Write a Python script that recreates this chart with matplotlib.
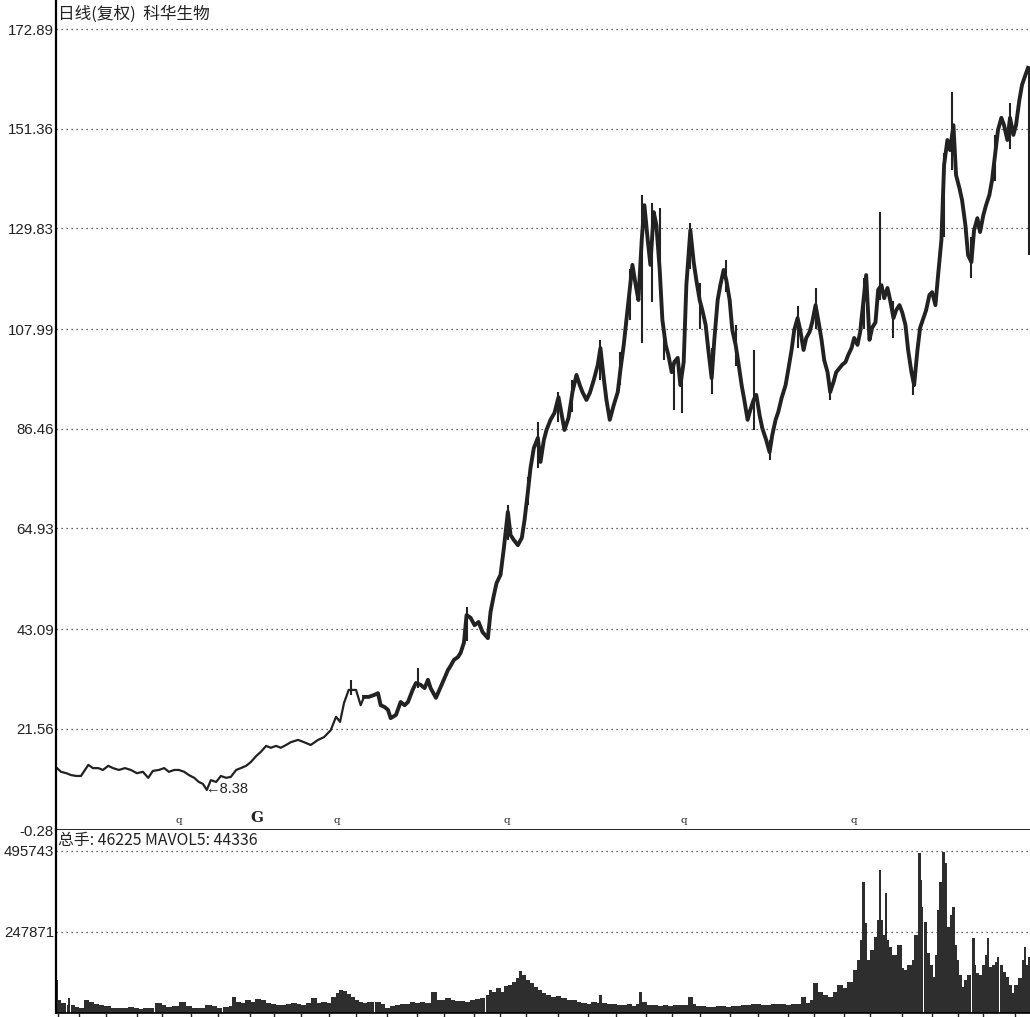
import numpy as np
import matplotlib
matplotlib.use('Agg')
import matplotlib.pyplot as plt

plt.rcParams['font.family'] = ['Liberation Sans', 'Noto Sans CJK SC', 'DejaVu Sans']

# trading-day index of each sampled close, and the close itself
price_days = [0, 6, 14, 21, 29, 36, 42, 47, 54, 62, 69, 77, 84, 93, 102, 111, 120, 129, 137, 144,
              153, 161, 168, 176, 183, 191, 198, 206, 213, 219, 225, 231, 239, 246, 254, 261, 269, 276, 284, 291,
              299, 306, 314, 321, 329, 336, 344, 351, 362, 371, 381, 392, 401, 411, 419, 425, 431, 438, 444, 449,
              456, 461, 468, 476, 482, 486, 492, 497, 501, 509, 516, 522, 527, 534, 539, 546, 552, 557, 561, 569,
              576, 582, 587, 591, 596, 602, 606, 611, 615, 621, 627, 633, 639, 647, 651, 656, 660, 666, 671, 677,
              681, 686, 692, 698, 702, 707, 711, 716, 722, 726, 731, 735, 741, 747, 753, 758, 762, 768, 774, 780,
              785, 789, 795, 800, 806, 812, 816, 821, 825, 830, 836, 842, 846, 851, 855, 860, 864, 869, 873, 878,
              882, 887, 891, 896, 900, 905, 909, 914, 918, 923, 927, 932, 936, 941, 945, 951, 956, 960, 965, 969,
              974, 978, 983, 987, 992, 996, 1001, 1005, 1010, 1014, 1019, 1023, 1028, 1032, 1037, 1041, 1046, 1050, 1055, 1059,
              1065, 1070, 1074, 1079, 1083, 1088, 1094, 1098, 1103, 1107, 1112, 1116, 1121, 1125, 1130, 1134, 1139, 1143, 1148, 1152,
              1157, 1161, 1166, 1170, 1175, 1179, 1184, 1188, 1193, 1197, 1202, 1206, 1211, 1215, 1220, 1224, 1229, 1233, 1238, 1242,
              1247, 1251, 1256, 1260, 1265, 1269, 1274, 1278, 1283, 1287, 1292, 1296, 1301, 1305, 1310, 1314, 1319, 1323, 1328, 1332,
              1337, 1341, 1346, 1350, 1355, 1359, 1364, 1368, 1373, 1377, 1382, 1386, 1391, 1395, 1400, 1404, 1409, 1413, 1418, 1422,
              1427, 1431, 1436, 1440, 1445, 1449, 1454, 1458]
close = [13.1, 12.3, 12.0, 11.6, 11.4, 11.4, 12.7, 13.8, 13.1, 13.1, 12.7, 13.6, 13.1, 12.7, 13.1, 12.7, 12.0, 12.3, 11.0, 12.5,
         12.7, 13.1, 12.3, 12.7, 12.7, 12.3, 11.6, 11.0, 10.1, 9.7, 8.38, 10.5, 10.1, 11.4, 11.0, 11.2, 12.7, 13.1, 13.6, 14.4,
         15.7, 16.6, 17.9, 17.5, 17.9, 17.5, 18.1, 18.7, 19.2, 18.7, 18.1, 19.2, 19.8, 21.3, 24.2, 23.1, 27.2, 30.0, 30.0, 30.0,
         26.7, 28.5, 28.5, 28.9, 29.3, 26.7, 26.3, 25.7, 23.9, 24.6, 27.4, 26.7, 27.4, 30.0, 31.5, 31.1, 30.4, 32.2, 30.4, 28.3,
         30.6, 32.6, 34.3, 35.2, 36.5, 37.1, 38.0, 40.2, 46.2, 45.6, 44.0, 44.7, 42.5, 41.2, 46.9, 50.5, 53.1, 54.9, 60.7, 68.5,
         63.5, 62.4, 61.3, 62.9, 66.7, 72.8, 78.0, 82.3, 84.5, 79.3, 84.0, 86.2, 88.4, 89.9, 93.3, 89.4, 86.2, 88.8, 94.4, 98.1,
         95.9, 94.4, 92.7, 94.2, 97.0, 100.3, 103.9, 97.4, 92.7, 88.4, 91.6, 94.4, 99.2, 104.6, 110.0, 116.5, 121.9, 117.5, 114.3, 127.3,
         134.8, 127.3, 121.9, 133.3, 130.5, 120.8, 110.0, 104.6, 102.4, 98.7, 100.9, 101.8, 95.9, 100.9, 117.5, 129.4, 122.5, 118.6, 114.3, 112.1,
         108.9, 103.5, 97.4, 105.7, 114.3, 117.5, 120.8, 118.6, 114.3, 107.8, 104.6, 100.9, 95.9, 92.7, 88.4, 90.5, 92.7, 93.8, 89.4, 86.6,
         84.0, 81.4, 85.1, 88.4, 90.1, 93.1, 95.9, 99.2, 103.5, 107.8, 110.4, 107.8, 103.5, 106.1, 107.4, 109.5, 113.2, 110.0, 105.7, 101.3,
         98.7, 94.4, 96.6, 98.7, 99.6, 100.3, 100.9, 102.4, 103.9, 106.1, 104.6, 107.4, 114.3, 119.7, 105.7, 108.3, 109.5, 116.5, 117.5, 114.7,
         116.9, 114.3, 110.4, 112.1, 113.2, 111.7, 108.9, 103.5, 98.7, 95.9, 103.5, 108.3, 110.4, 112.1, 115.4, 116.0, 113.2, 119.7, 127.3, 143.5,
         148.9, 146.7, 152.1, 141.3, 138.5, 135.9, 130.5, 124.0, 122.5, 129.4, 132.0, 129.0, 132.7, 134.8, 137.0, 140.2, 146.3, 151.1, 153.7, 152.1,
         148.9, 153.7, 150.0, 152.1, 157.5, 160.8, 162.9, 164.5]

# intraday extremes that stick out of the close line
spike_days = [441, 542, 615, 677, 707, 722, 753, 774, 816, 846, 860, 878, 894, 905, 912, 926, 938, 950, 965, 983,
              1004, 1019, 1047, 1071, 1112, 1139, 1161, 1211, 1236, 1256, 1286, 1332, 1344, 1373, 1409, 1431, 1460]
spike_low = [29.0, 30.5, 40.5, 62.4, 70.0, 78.0, 88.0, 90.0, 97.0, 96.0, 110.0, 105.0, 113.9, 119.7, 101.3, 90.5, 89.9, 121.0, 108.0, 94.0,
             116.0, 100.0, 86.2, 79.7, 104.0, 108.0, 92.7, 108.0, 114.3, 106.0, 93.8, 128.0, 142.4, 119.0, 140.0, 147.0, 124.0]
spike_high = [32.2, 34.7, 48.0, 70.0, 76.0, 88.0, 94.5, 97.0, 105.7, 103.0, 121.0, 137.0, 135.3, 134.2, 107.8, 101.3, 98.0, 131.0, 118.0, 104.0,
              123.0, 109.0, 103.5, 84.0, 113.0, 117.0, 96.0, 119.0, 133.3, 114.0, 99.0, 146.0, 159.3, 128.0, 150.0, 157.0, 164.5]

vol_days = [0, 3, 9, 17, 18, 24, 30, 36, 44, 51, 59, 66, 75, 86, 96, 104, 111, 119, 126, 134,
            141, 152, 159, 168, 179, 189, 198, 207, 216, 227, 236, 243, 254, 261, 266, 272, 279, 287, 294, 302,
            309, 317, 324, 332, 339, 348, 356, 363, 371, 378, 386, 393, 401, 408, 416, 422, 426, 432, 438, 444,
            450, 456, 464, 471, 482, 489, 497, 504, 512, 519, 527, 534, 542, 549, 557, 566, 572, 579, 587, 594,
            602, 609, 617, 624, 632, 639, 647, 651, 657, 663, 669, 674, 680, 686, 692, 696, 701, 707, 713, 719,
            725, 731, 737, 746, 753, 761, 768, 776, 783, 791, 798, 806, 813, 816, 822, 830, 837, 845, 852, 860,
            867, 872, 876, 882, 891, 899, 906, 914, 921, 929, 936, 944, 951, 956, 963, 971, 978, 986, 993, 1001,
            1008, 1016, 1023, 1031, 1038, 1046, 1053, 1061, 1068, 1076, 1083, 1091, 1098, 1106, 1113, 1121, 1127, 1134, 1139, 1146,
            1154, 1161, 1169, 1176, 1184, 1191, 1199, 1203, 1208, 1211, 1214, 1218, 1224, 1229, 1233, 1236, 1239, 1242, 1245, 1248,
            1251, 1257, 1265, 1269, 1274, 1280, 1286, 1290, 1295, 1298, 1299, 1304, 1308, 1313, 1316, 1320, 1323, 1326, 1331, 1334,
            1338, 1343, 1346, 1349, 1352, 1356, 1361, 1365, 1370, 1376, 1379, 1382, 1386, 1391, 1395, 1398, 1401, 1406, 1410, 1413,
            1418, 1422, 1427, 1431, 1436, 1440, 1446, 1451, 1454, 1457, 1460]
# volume in thousands of lots
vol_k = [101, 40, 31, 24, 46, 24, 18, 15, 40, 34, 28, 24, 21, 15, 15, 15, 18, 15, 12, 15,
         15, 31, 24, 18, 21, 34, 21, 15, 15, 24, 21, 15, 18, 21, 49, 34, 31, 40, 34, 43,
         40, 31, 28, 24, 24, 28, 31, 28, 24, 31, 46, 31, 34, 31, 49, 61, 70, 67, 58, 49,
         40, 34, 31, 34, 34, 28, 15, 21, 24, 28, 28, 34, 31, 34, 31, 64, 40, 40, 46, 40,
         37, 37, 34, 40, 43, 46, 55, 70, 64, 77, 64, 83, 86, 95, 107, 129, 116, 101, 92, 80,
         70, 61, 55, 49, 52, 46, 40, 40, 34, 31, 28, 34, 31, 55, 31, 28, 28, 24, 24, 28,
         21, 28, 64, 34, 24, 24, 21, 24, 21, 24, 24, 24, 49, 28, 21, 21, 18, 18, 21, 21,
         18, 21, 21, 24, 24, 28, 28, 24, 24, 28, 28, 28, 24, 28, 28, 49, 31, 40, 92, 64,
         55, 49, 64, 86, 77, 95, 132, 162, 223, 401, 275, 162, 193, 233, 285, 438, 285, 239, 367, 223,
         202, 177, 208, 138, 132, 147, 162, 239, 490, 407, 324, 278, 184, 147, 110, 177, 315, 401, 493, 459,
         263, 300, 324, 208, 162, 116, 80, 101, 116, 230, 147, 122, 116, 147, 177, 230, 140, 147, 156, 171,
         147, 125, 110, 86, 61, 86, 107, 162, 202, 147, 171]

price_ticks = [172.89, 151.36, 129.83, 107.99, 86.46, 64.93, 43.09, 21.56, -0.28]
vol_ticks = [495743, 247871]
axis_tick_days = [2, 33, 74, 120, 158, 201, 242, 290, 326, 366, 408, 449, 495, 540, 581, 626, 665, 704, 753, 797,
                  839, 885, 923, 966, 1011, 1053, 1097, 1136, 1181, 1221, 1269, 1314, 1353, 1391, 1439]
q_days = [183, 420, 675, 941, 1197]
g_day = 300
low_day, low_price = 225, 8.38

W, H = 1030, 1017
fig = plt.figure(figsize=(W / 100, H / 100), dpi=100)
left = 56 / W
ax = fig.add_axes([left, (H - 830) / H, 1 - left, 830 / H])
axv = fig.add_axes([left, (H - 1013) / H, 1 - left, (1013 - 830) / H], sharex=ax)

ink = '#222222'
grid_kw = dict(color='#333333', linestyle=(0, (1, 3)), linewidth=0.9)

# price panel
cut = next(i for i, d in enumerate(price_days) if d >= 460)
ax.plot(price_days[:cut + 1], close[:cut + 1], color=ink, linewidth=1.6)
ax.plot(price_days[cut:], close[cut:], color=ink, linewidth=2.8)
ax.vlines(spike_days, spike_low, spike_high, color=ink, linewidth=1.5)
for t in price_ticks[:-1]:
    ax.axhline(t, **grid_kw)
ax.set_ylim(-0.28, -0.28 + 830 * 0.2162)
ax.set_xlim(-1.5, 1461)
ax.set_yticks(price_ticks)
ax.set_yticklabels([f'{t:.2f}' for t in price_ticks])
ax.tick_params(axis='y', length=0, pad=1.5, labelsize=10.8, labelcolor='#222222')
ax.tick_params(axis='x', length=0, labelbottom=False)
for s in ['top', 'right']:
    ax.spines[s].set_visible(False)
ax.spines['left'].set_linewidth(1.6)
ax.spines['bottom'].set_linewidth(1.2)

for d in q_days:
    ax.text(d, 1.7, 'q', family='DejaVu Serif', fontsize=7.5, ha='center', va='center', color='#222222')
ax.text(g_day, 2.4, 'G', family='DejaVu Serif', fontsize=11, fontweight='bold', ha='center', va='center', color='#222222')
ax.text(low_day - 2, low_price + 0.3, '←8.38', fontsize=10.5, ha='left', va='center', color='#222222')

# volume panel
widths = np.gradient(np.array(vol_days, dtype=float)) * 1.1
axv.bar(vol_days, np.array(vol_k) * 1000, width=widths, color='#2e2e2e', linewidth=0)
for t in vol_ticks:
    axv.axhline(t, **grid_kw)
axv.set_ylim(0, 560000)
axv.set_yticks(vol_ticks)
axv.set_yticklabels([str(t) for t in vol_ticks])
axv.tick_params(axis='y', length=0, pad=1.5, labelsize=10.8, labelcolor='#222222')
axv.set_xticks(axis_tick_days)
axv.tick_params(axis='x', direction='out', length=4, width=1, labelbottom=False, color='#222222')
for s in ['top', 'right']:
    axv.spines[s].set_visible(False)
axv.spines['left'].set_linewidth(1.6)
axv.spines['bottom'].set_linewidth(1.2)

fig.text(58 / W, 1 - 14 / H, '日线(复权)  科华生物', family=['Noto Sans CJK SC', 'DejaVu Sans'],
         fontsize=12, va='center', ha='left', color='#222222')
fig.text(58 / W, 1 - 841 / H, '总手: 46225 MAVOL5: 44336', family=['Noto Sans CJK SC', 'DejaVu Sans'],
         fontsize=11.4, va='center', ha='left', color='#222222')

fig.savefig('out.png', dpi=100, facecolor='white')
